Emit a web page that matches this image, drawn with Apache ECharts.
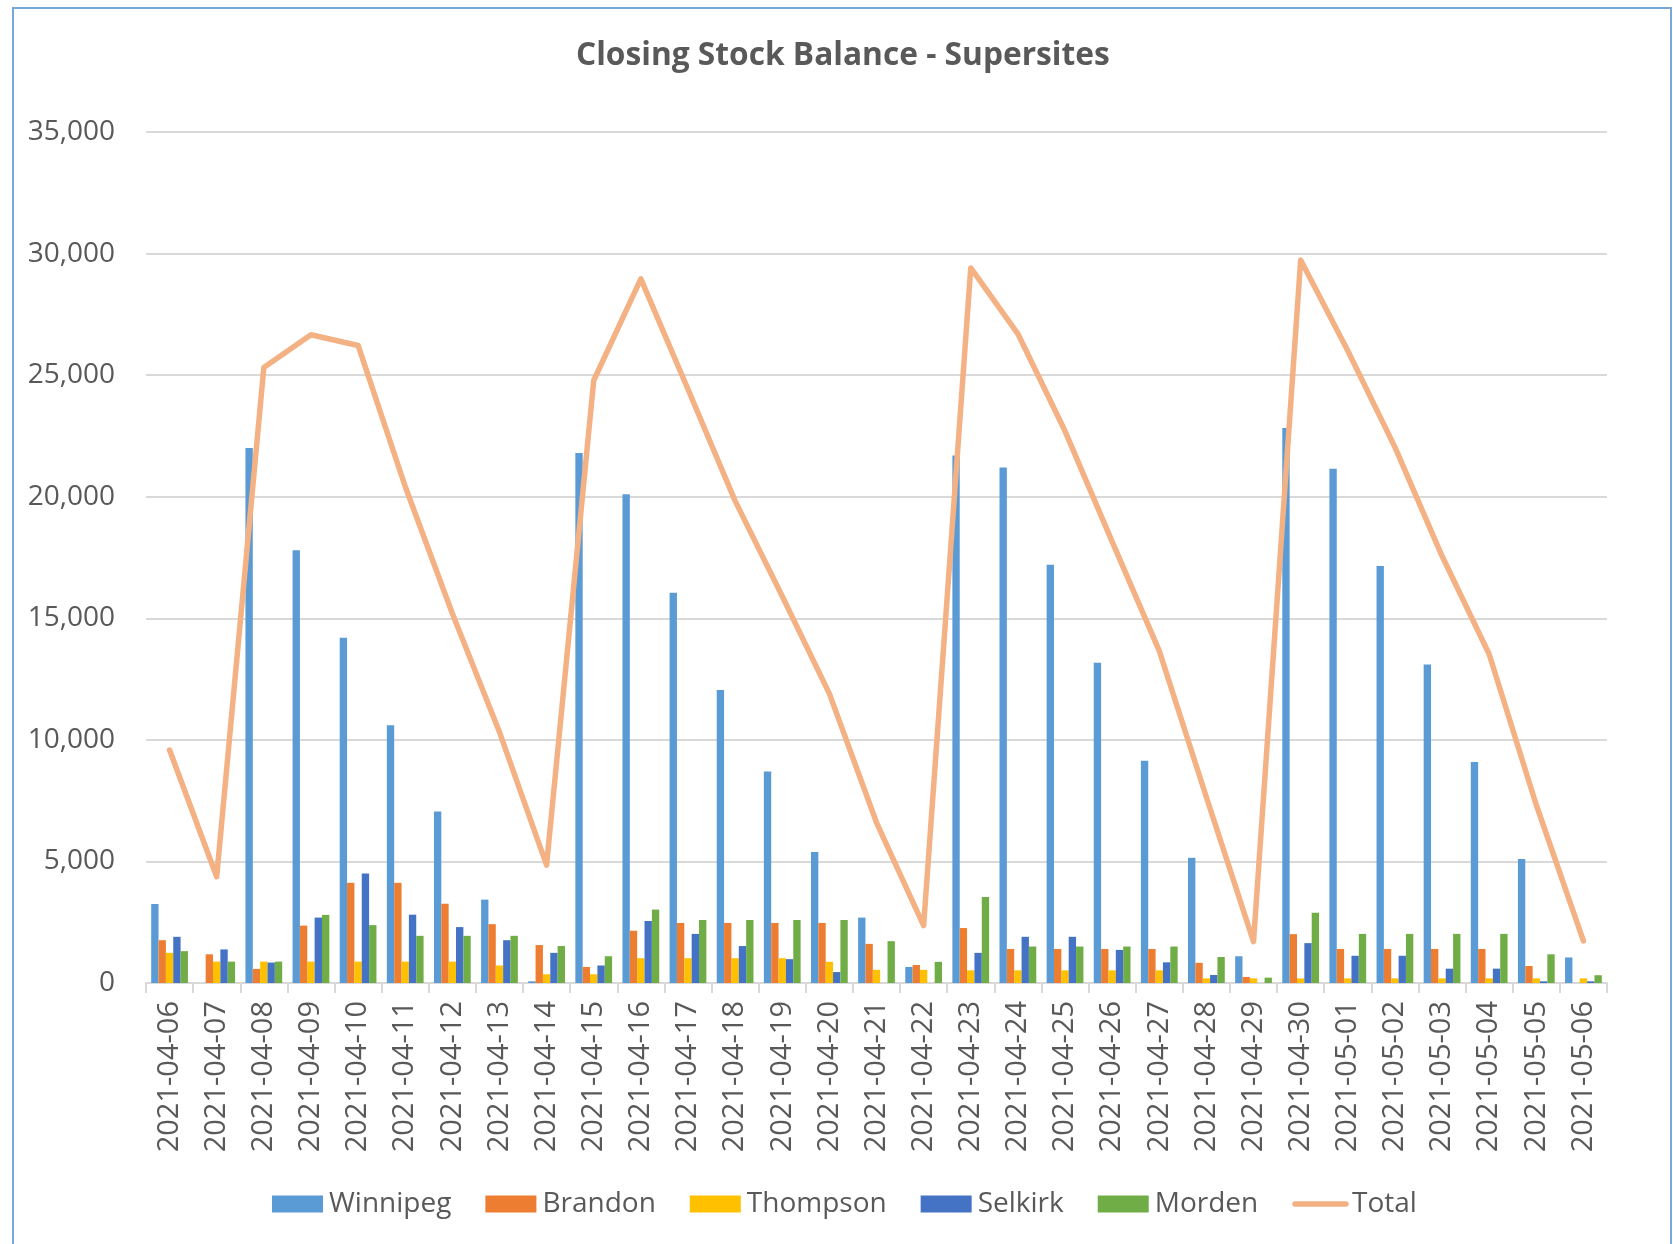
<!DOCTYPE html>
<html>
<head>
<meta charset="utf-8">
<title>Closing Stock Balance - Supersites</title>
<script src="https://cdn.jsdelivr.net/npm/echarts@6/dist/echarts.min.js"></script>
<style>
  html, body { margin: 0; padding: 0; background: #fff; }
  #main { width: 1673px; height: 1244px; }
</style>
</head>
<body>
<div id="main"></div>
<script>
// chart data
var dates = ['2021-04-06', '2021-04-07', '2021-04-08', '2021-04-09', '2021-04-10', '2021-04-11',
    '2021-04-12', '2021-04-13', '2021-04-14', '2021-04-15', '2021-04-16', '2021-04-17',
    '2021-04-18', '2021-04-19', '2021-04-20', '2021-04-21', '2021-04-22', '2021-04-23',
    '2021-04-24', '2021-04-25', '2021-04-26', '2021-04-27', '2021-04-28', '2021-04-29',
    '2021-04-30', '2021-05-01', '2021-05-02', '2021-05-03', '2021-05-04', '2021-05-05',
    '2021-05-06'];

var winnipeg = [3250, 0, 22000, 17800, 14200, 10600, 7050, 3430, 70, 21800, 20100, 16050,
    12050, 8700, 5390, 2690, 660, 21700, 21200, 17200, 13170, 9140, 5150, 1100,
    22830, 21150, 17150, 13100, 9090, 5100, 1050];
var brandon = [1760, 1180, 580, 2360, 4120, 4120, 3260, 2420, 1560, 660, 2150, 2470,
    2470, 2470, 2470, 1610, 740, 2260, 1400, 1400, 1400, 1400, 830, 250,
    2010, 1400, 1400, 1400, 1400, 700, 0];
var thompson = [1240, 880, 880, 880, 880, 880, 880, 720, 360, 360, 1020, 1020,
    1020, 1020, 870, 540, 540, 520, 520, 520, 520, 520, 190, 190,
    190, 190, 190, 190, 190, 190, 190];
var selkirk = [1900, 1380, 840, 2690, 4500, 2810, 2300, 1760, 1240, 720, 2550, 2020,
    1520, 980, 450, 0, -90, 1240, 1900, 1900, 1360, 850, 330, -70,
    1640, 1120, 1120, 590, 590, 70, 70];
var morden = [1310, 880, 880, 2800, 2380, 1940, 1940, 1940, 1520, 1100, 3020, 2590,
    2590, 2590, 2590, 1720, 870, 3540, 1500, 1500, 1500, 1500, 1070, 220,
    2890, 2020, 2020, 2020, 2020, 1180, 320];
var total = [9580, 4370, 25310, 26660, 26220, 20420, 15200, 10320, 4850, 24780, 28960, 24420,
    19830, 15910, 11900, 6600, 2360, 29410, 26700, 22700, 18150, 13660, 7640, 1700,
    29740, 26000, 22040, 17560, 13520, 7320, 1730];

var yTicks = { min: 0, max: 35000, interval: 5000 };

var textColor = '#595959';
var fontName = 'Open Sans';
var totalColor = '#F4B183';

function barSeries(name, data, color) {
    return {
        name: name,
        type: 'bar',
        data: data,
        barGap: '0%',
        barCategoryGap: '22%',
        itemStyle: { color: color }
    };
}

var chartDom = document.getElementById('main');
var myChart = echarts.init(chartDom);

var option = {
    animation: false,
    textStyle: { fontFamily: fontName },
    title: {
        text: 'Closing Stock Balance - Supersites',
        left: 571,
        top: 35,
        textStyle: { fontFamily: fontName, fontSize: 31.7, fontWeight: 'bold', color: textColor }
    },
    legend: {
        bottom: 21,
        left: 267,
        itemWidth: 51,
        itemHeight: 17,
        itemGap: 34,
        textStyle: { fontFamily: fontName, fontSize: 28, color: textColor, padding: [0, 0, 0, 1] },
        data: [
            { name: 'Winnipeg', icon: 'rect' },
            { name: 'Brandon', icon: 'rect' },
            { name: 'Thompson', icon: 'rect' },
            { name: 'Selkirk', icon: 'rect' },
            { name: 'Morden', icon: 'rect' },
            {
                name: 'Total',
                itemStyle: { color: 'rgba(0,0,0,0)', borderWidth: 0 },
                lineStyle: { color: totalColor, width: 5.5, cap: 'round' }
            }
        ]
    },
    grid: {
        left: 146,
        right: 66,
        top: 132,
        bottom: 261
    },
    xAxis: {
        type: 'category',
        data: dates,
        boundaryGap: true,
        axisLine: { lineStyle: { color: '#D9D9D9', width: 2 } },
        axisTick: { show: true, length: 10, lineStyle: { color: '#D9D9D9', width: 2 } },
        axisLabel: {
            rotate: 90,
            interval: 0,
            margin: 18,
            color: textColor,
            fontFamily: fontName,
            fontSize: 29
        }
    },
    yAxis: {
        type: 'value',
        min: yTicks.min,
        max: yTicks.max,
        interval: yTicks.interval,
        axisLine: { show: false },
        axisTick: { show: false },
        splitLine: { lineStyle: { color: '#D9D9D9', width: 2 } },
        axisLabel: {
            margin: 31,
            color: textColor,
            fontFamily: fontName,
            fontSize: 28,
            formatter: function (v) { return v.toLocaleString('en-US'); }
        }
    },
    graphic: [{
        type: 'rect',
        silent: true,
        shape: { x: 13, y: 8, width: 1658, height: 1300 },
        style: { fill: 'none', stroke: '#7AA7DA', lineWidth: 2 }
    }],
    series: [
        barSeries('Winnipeg', winnipeg, '#5B9BD5'),
        barSeries('Brandon', brandon, '#ED7D31'),
        barSeries('Thompson', thompson, '#FFC000'),
        barSeries('Selkirk', selkirk, '#4472C4'),
        barSeries('Morden', morden, '#70AD47'),
        {
            name: 'Total',
            type: 'line',
            data: total,
            symbol: 'none',
            lineStyle: { color: totalColor, width: 5.5, cap: 'round', join: 'round' },
            itemStyle: { color: totalColor },
            z: 5
        }
    ]
};

myChart.setOption(option);
</script>
</body>
</html>
